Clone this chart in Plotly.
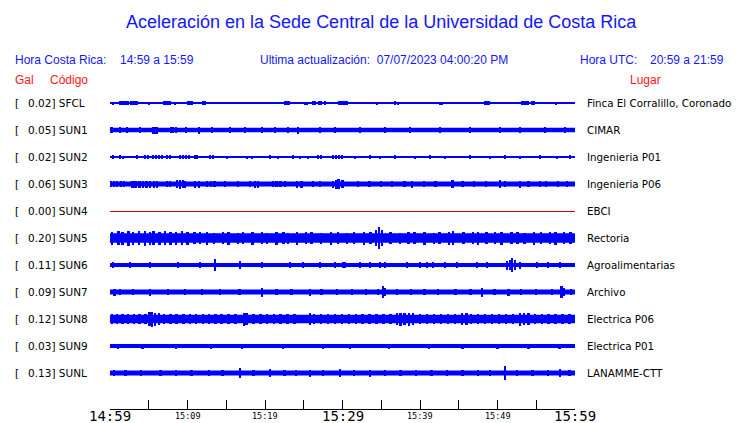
import plotly.graph_objects as go

# ---------------- data ----------------
stations = ["SFCL", "SUN1", "SUN2", "SUN3", "SUN4", "SUN5", "SUN6", "SUN7", "SUN8", "SUN9", "SUNL"]
gal = ["0.02", "0.05", "0.02", "0.06", "0.00", "0.20", "0.11", "0.09", "0.12", "0.03", "0.13"]
places = ["Finca El Corralillo, Coronado", "CIMAR", "Ingenieria P01", "Ingenieria P06", "EBCI",
          "Rectoria", "Agroalimentarias", "Archivo", "Electrica P06", "Electrica P01", "LANAMME-CTT"]
tick_labels = ["14:59", "", "15:09", "", "15:19", "", "15:29", "", "15:39", "", "15:49", "", "15:59"]
tick_major = [True, False, False, False, False, False, True, False, False, False, False, False, True]

# background noise level (half-amplitude) of each trace, display units
noise_level = [1.0, 2.2, 1.0, 2.6, 0.5, 4.7, 2.0, 2.4, 4.3, 2.0, 2.4]

# bursts: (minutes after 14:59, half-amplitude in display units)
ev_SFCL = [(0.4, 1.5), (1.3, 2), (1.55, 2), (1.8, 2), (2.05, 2), (2.3, 2), (2.7, 2), (2.95, 2),
           (3.25, 2), (3.5, 2), (5.0, 1.5), (6.2, 1.3), (7.0, 2), (7.25, 2), (7.5, 2), (7.75, 2),
           (8.4, 1.5), (9.4, 1.3), (10.05, 2), (10.3, 2), (10.6, 2), (11.35, 1.3), (12.0, 1.7),
           (12.25, 1.7), (13.3, 1.3), (18.45, 1.3), (20.4, 1.3), (21.9, 1.3), (22.6, 2), (22.85, 2),
           (23.1, 2), (25.15, 1.5), (25.4, 1.5), (25.95, 1.3), (26.2, 2), (26.45, 2), (26.95, 2),
           (27.2, 2), (27.75, 1.7), (29.55, 2), (29.8, 2), (30.05, 2), (30.3, 2), (30.6, 2),
           (32.25, 1.3), (34.45, 1.5), (36.75, 1.7), (37.15, 1.5), (39.75, 1.3), (42.6, 1.5),
           (42.85, 1.5), (45.4, 1.3), (48.4, 2), (48.65, 2), (48.9, 2), (50.95, 1.3), (53.15, 2),
           (53.4, 2), (53.7, 2), (53.95, 2), (54.45, 2), (54.7, 2), (57.55, 1.5), (59.35, 1.3)]
ev_SUN1 = [(0.2, 3), (1.3, 2.6), (2.2, 2.6), (3.9, 2.6), (5.55, 3.5), (5.8, 3.5), (6.05, 3.5),
           (7.85, 3), (8.1, 3), (8.5, 3), (9.8, 2.6), (11.5, 3.5), (13.15, 2.6), (15.5, 2.6),
           (17.4, 2.6), (19.6, 2.6), (21.3, 2.6), (23.0, 2.8), (24.25, 3.5), (27.1, 2.6),
           (29.0, 2.6), (32.25, 2.6), (35.5, 2.6), (38.7, 2.6), (42.6, 2.6), (46.45, 2.8),
           (50.3, 2.6), (52.9, 2.6), (56.1, 2.6), (58.7, 2.6)]
ev_SUN2 = [(0.4, 1.8), (1.3, 1.8), (1.7, 1.5), (3.5, 1.8), (4.5, 1.8), (4.9, 1.8), (5.55, 1.8),
           (5.95, 1.8), (6.3, 1.8), (6.7, 1.8), (7.35, 1.8), (7.75, 1.8), (9.05, 1.8), (9.4, 1.8),
           (9.8, 1.8), (10.2, 1.8), (11.0, 1.8), (11.2, 1.8), (12.9, 1.8), (13.3, 1.8), (15.1, 1.5),
           (17.7, 1.5), (18.3, 1.5), (20.65, 1.7), (21.7, 1.5), (23.6, 1.8), (24.5, 1.5),
           (25.55, 1.5), (26.85, 1.8), (27.2, 1.8), (28.8, 1.8), (29.15, 1.8), (29.55, 2.2),
           (29.95, 1.8), (31.6, 1.5), (33.55, 1.7), (34.85, 1.5), (36.75, 1.7), (39.35, 1.5),
           (41.3, 1.7), (43.2, 1.5), (46.45, 1.7), (49.05, 1.5), (50.95, 1.7), (52.9, 1.5),
           (55.5, 1.7), (57.7, 1.5), (59.35, 1.7)]
ev_SUN3 = [(0.1, 3.3), (0.5, 3.3), (0.9, 3.3), (1.4, 3.3), (1.8, 3.3), (2.9, 3.5), (3.3, 3.5),
           (3.8, 3.5), (4.3, 3.5), (4.7, 3.5), (5.2, 3.5), (5.7, 3.5), (6.1, 3.5), (7.35, 3.3),
           (7.75, 3.3), (8.65, 4), (9.0, 4.5), (9.4, 4), (9.7, 3.5), (11.0, 3.5), (11.5, 3.5),
           (12.5, 3.3), (13.0, 3.3), (13.5, 3.3), (14.85, 3.3), (16.5, 3.3), (18.05, 3.3),
           (18.7, 3.5), (19.1, 3.5), (21.0, 3.3), (21.5, 3.3), (22.0, 3.3), (22.6, 3.3),
           (24.15, 3.5), (24.7, 3.5), (26.2, 3.3), (27.1, 3.3), (28.8, 3.5), (29.2, 4.5),
           (29.5, 5), (29.9, 4), (30.1, 4), (32.0, 3.3), (33.5, 3.3), (35.0, 3.3), (36.4, 3.3),
           (38.0, 3.3), (39.0, 3.5), (40.5, 3.3), (42.0, 3.3), (44.2, 3.8), (45.5, 3.3),
           (47.0, 3.3), (48.5, 3.3), (50.3, 4), (51.0, 3.3), (52.9, 3.5), (54.0, 3.3),
           (55.5, 3.3), (56.3, 3.3), (57.8, 3.3), (59.0, 3.3)]
ev_SUN4 = []
ev_SUN5 = [(0.3, 6.5), (1.1, 7), (1.6, 6.5), (2.4, 7.5), (3.0, 6.5), (3.7, 7), (4.5, 7.5),
           (5.2, 6.5), (5.6, 7), (6.4, 6.5), (7.1, 7), (7.8, 6.5), (8.5, 6.5), (9.3, 7), (10.0, 6.5),
           (10.9, 6), (11.6, 6), (12.5, 6.5), (13.4, 5.5), (14.6, 6), (15.3, 6.5), (16.5, 5.5),
           (17.2, 6), (18.4, 6.5), (19.6, 6), (20.3, 5.5), (21.5, 6.5), (22.4, 6), (23.0, 5.5),
           (24.1, 6.5), (25.3, 6), (26.0, 6), (27.2, 5.5), (28.5, 6.5), (29.4, 6), (30.6, 5.5),
           (31.5, 6), (32.8, 6.5), (33.6, 6), (34.3, 8), (34.7, 11), (35.1, 8), (36.2, 6),
           (37.4, 5.5), (38.5, 6), (39.3, 6), (40.6, 6.5), (41.8, 5.5), (42.5, 6), (43.7, 6.5),
           (44.3, 7), (45.6, 6), (46.8, 6), (47.5, 6.5), (48.6, 6), (49.7, 6), (50.5, 6.5),
           (51.8, 6), (52.6, 6), (53.5, 5.5), (54.7, 6.5), (55.6, 6), (56.8, 6), (57.5, 6.5),
           (58.6, 6), (59.4, 6)]
ev_SUN6 = [(0.4, 2.6), (2.6, 2.6), (5.15, 2.6), (8.8, 2.6), (11.6, 2.6), (13.55, 6), (16.8, 4),
           (19.6, 2.6), (23.2, 3), (24.9, 3), (27.1, 2.6), (29.0, 2.6), (30.05, 3), (30.3, 2.8),
           (32.25, 2.6), (33.55, 2.6), (34.85, 2.6), (35.5, 2.6), (38.3, 2.6), (40.0, 2.8),
           (40.9, 2.8), (41.7, 2.6), (43.2, 2.8), (44.8, 2.6), (47.35, 2.6), (48.65, 2.6),
           (51.2, 4.5), (51.6, 5), (51.85, 7), (52.25, 5), (52.9, 3.5), (55.1, 2.8), (56.5, 2.8),
           (58.05, 2.6)]
ev_SUN7 = [(0.6, 3.5), (1.3, 3), (3.0, 3), (5.15, 3.5), (7.5, 3), (9.7, 3), (11.9, 3), (14.2, 3),
           (16.7, 3), (19.6, 4.5), (21.5, 3), (23.4, 3), (25.8, 3.5), (27.3, 3), (29.3, 3),
           (31.2, 3), (33.0, 3), (34.6, 3), (35.2, 6), (35.45, 4), (37.0, 3), (38.8, 3), (40.6, 3),
           (42.3, 3), (44.6, 3), (46.5, 3), (48.0, 4.5), (49.6, 3), (51.4, 3.5), (53.0, 3),
           (55.0, 3), (57.0, 3), (58.25, 6), (58.5, 4), (59.5, 3)]
ev_SUN8 = [(0.3, 5.3), (0.9, 5.3), (1.6, 5.3), (2.3, 5.3), (3.1, 5.3), (3.8, 5.3), (4.6, 5.3),
           (5.1, 7), (5.4, 7.5), (5.8, 6.5), (6.3, 6), (7.0, 5.3), (7.8, 5.3), (8.6, 5.3),
           (9.5, 5.3), (10.3, 5.3), (11.1, 5.3), (12.0, 5.3), (12.8, 5.3), (13.6, 5.3),
           (14.4, 5.3), (15.3, 5.3), (16.2, 5.3), (17.3, 6.5), (17.6, 6), (18.5, 5.3), (19.4, 5.3),
           (20.3, 5.3), (21.2, 5.3), (22.0, 5.3), (22.9, 5.3), (23.8, 5.3), (25.8, 6), (26.3, 5.3),
           (27.2, 5.3), (28.1, 5.3), (29.0, 5.3), (29.9, 5.3), (30.8, 5.3), (31.7, 5.3),
           (32.6, 5.3), (33.5, 5.3), (34.4, 5.3), (35.3, 5.3), (36.2, 5.3), (37.0, 6), (37.5, 6.5),
           (38.0, 6), (38.6, 6.5), (39.1, 6), (40.0, 5.3), (40.9, 5.3), (41.8, 5.3), (42.7, 5.3),
           (43.6, 5.3), (44.5, 5.3), (45.4, 5.8), (46.0, 6), (46.6, 5.3), (47.5, 5.3), (48.4, 5.3),
           (49.3, 5.3), (50.2, 5.3), (51.1, 5.3), (52.0, 5.3), (52.9, 6.5), (53.4, 6), (54.0, 6),
           (54.8, 5.3), (55.7, 5.3), (56.6, 5.3), (57.5, 5.3), (58.4, 5.3), (59.3, 5.3)]
ev_SUN9 = [(1.0, 2.5), (4.2, 2.5), (8.5, 2.5), (13.0, 2.5), (17.0, 2.5), (22.3, 2.5), (27.5, 2.5),
           (31.0, 2.5), (36.0, 2.5), (41.2, 2.5), (45.5, 2.5), (50.0, 2.5), (54.0, 2.5), (58.0, 2.5)]
ev_SUNL = [(0.5, 3), (2.0, 3), (4.0, 3), (6.5, 3), (8.5, 3), (10.5, 3), (12.8, 3), (14.5, 3),
           (16.8, 5), (18.5, 3), (20.65, 4), (22.5, 3), (24.0, 3), (25.8, 3.5), (27.5, 3),
           (29.7, 4), (31.5, 3), (33.55, 3.5), (35.5, 3), (37.5, 3), (39.5, 3), (41.5, 3),
           (43.5, 3), (45.5, 3), (47.5, 3), (49.0, 3), (50.95, 7), (52.5, 3), (54.5, 3), (56.5, 3),
           (58.05, 4), (59.3, 3)]

events = [ev_SFCL, ev_SUN1, ev_SUN2, ev_SUN3, ev_SUN4, ev_SUN5,
          ev_SUN6, ev_SUN7, ev_SUN8, ev_SUN9, ev_SUNL]

# ---------------- style / layout ----------------
W, H = 740, 423
L, R, T, B = 110, 575, 90, 409          # plot area in pixels
TRACE_COLORS = ["#0000ff"] * 11
TRACE_COLORS[4] = "#d40000"
BLUE = "#1414ff"
RED = "#ff1414"
ROW0, ROWSTEP = 103, 27
SPIKE_WIDTH = 0.3                       # minutes


def px_x(px):
    return (px - L) / (R - L)


def px_y(py):
    return (B - py) / (B - T)


def row_center(i):
    return B - (ROW0 + ROWSTEP * i)     # in y data units (1 unit = 1 px)


fig = go.Figure()

for i, (name, ev) in enumerate(zip(stations, events)):
    c = row_center(i)
    col = TRACE_COLORS[i]
    lw = max(1.0, 2 * noise_level[i])
    cl = c - 0.5 if lw == 1.0 else c          # pixel-align hairlines
    fig.add_trace(go.Scatter(x=[0, 60], y=[cl, cl], mode="lines",
                             line=dict(color=col, width=lw), hoverinfo="skip", showlegend=False))
    if ev:
        ts = [e[0] for e in ev]
        amps = [e[1] for e in ev]
        fig.add_trace(go.Bar(x=ts, y=[2 * a for a in amps], base=[c - a for a in amps],
                             width=SPIKE_WIDTH, marker=dict(color=col, line=dict(width=0)),
                             name=name, showlegend=False))

annotations = []


def txt(x, y, s, size, color, family="Liberation Sans, Arial, sans-serif", xanchor="left", yref="paper"):
    annotations.append(dict(x=px_x(x), y=(y if yref == "y" else px_y(y)), xref="paper", yref=yref,
                            text=s, showarrow=False, xanchor=xanchor, yanchor="middle",
                            borderpad=0, borderwidth=0,
                            font=dict(family=family, size=size, color=color)))


txt(381, 22, "Aceleración en la Sede Central de la Universidad de Costa Rica", 18, BLUE, xanchor="center")
txt(15, 60, "Hora Costa Rica:", 12, BLUE)
txt(120, 60, "14:59 a 15:59", 12, BLUE)
txt(260, 60, "Ultima actualización:&#160;&#160;07/07/2023 04:00:20 PM", 12, BLUE)
txt(580, 60, "Hora UTC:", 12, BLUE)
txt(650, 60, "20:59 a 21:59", 12, BLUE)
txt(15, 80, "Gal", 12, RED)
txt(50, 80, "Código", 12, RED)
txt(630, 80, "Lugar", 12, RED)

DV = "DejaVu Sans, sans-serif"
for i in range(len(stations)):
    c = row_center(i)
    txt(15, c, "[", 10.5, "black", family=DV, yref="y")
    txt(27.5, c, gal[i] + "] " + stations[i], 10.5, "black", family=DV, yref="y")
    txt(587, c, places[i], 10.3, "black", family=DV, yref="y")

MONO = "DejaVu Sans Mono, monospace"
for j, lab in enumerate(tick_labels):
    if lab:
        xpx = L + (R - L) * (5 * j) / 60
        size = 14 if tick_major[j] else 8.5
        txt(xpx, 416, lab, size, "black", family=MONO, xanchor="center")

fig.update_layout(
    width=W, height=H,
    margin=dict(l=L, r=W - R, t=T, b=H - B, pad=0),
    paper_bgcolor="white", plot_bgcolor="white",
    barmode="overlay", bargap=0,
    xaxis=dict(range=[0, 60], tickvals=[5 * j for j in range(13)], ticktext=[""] * 13,
               ticks="inside", ticklen=9, tickcolor="black", tickwidth=1,
               showline=True, linecolor="black", linewidth=1, showgrid=False, zeroline=False,
               fixedrange=True),
    yaxis=dict(range=[0, B - T], visible=False, showgrid=False, zeroline=False, fixedrange=True),
    annotations=annotations,
    showlegend=False,
)

fig.write_html("out.html", config={"displayModeBar": False},
               post_script="document.body.style.margin='0px';document.body.style.overflow='hidden';")
